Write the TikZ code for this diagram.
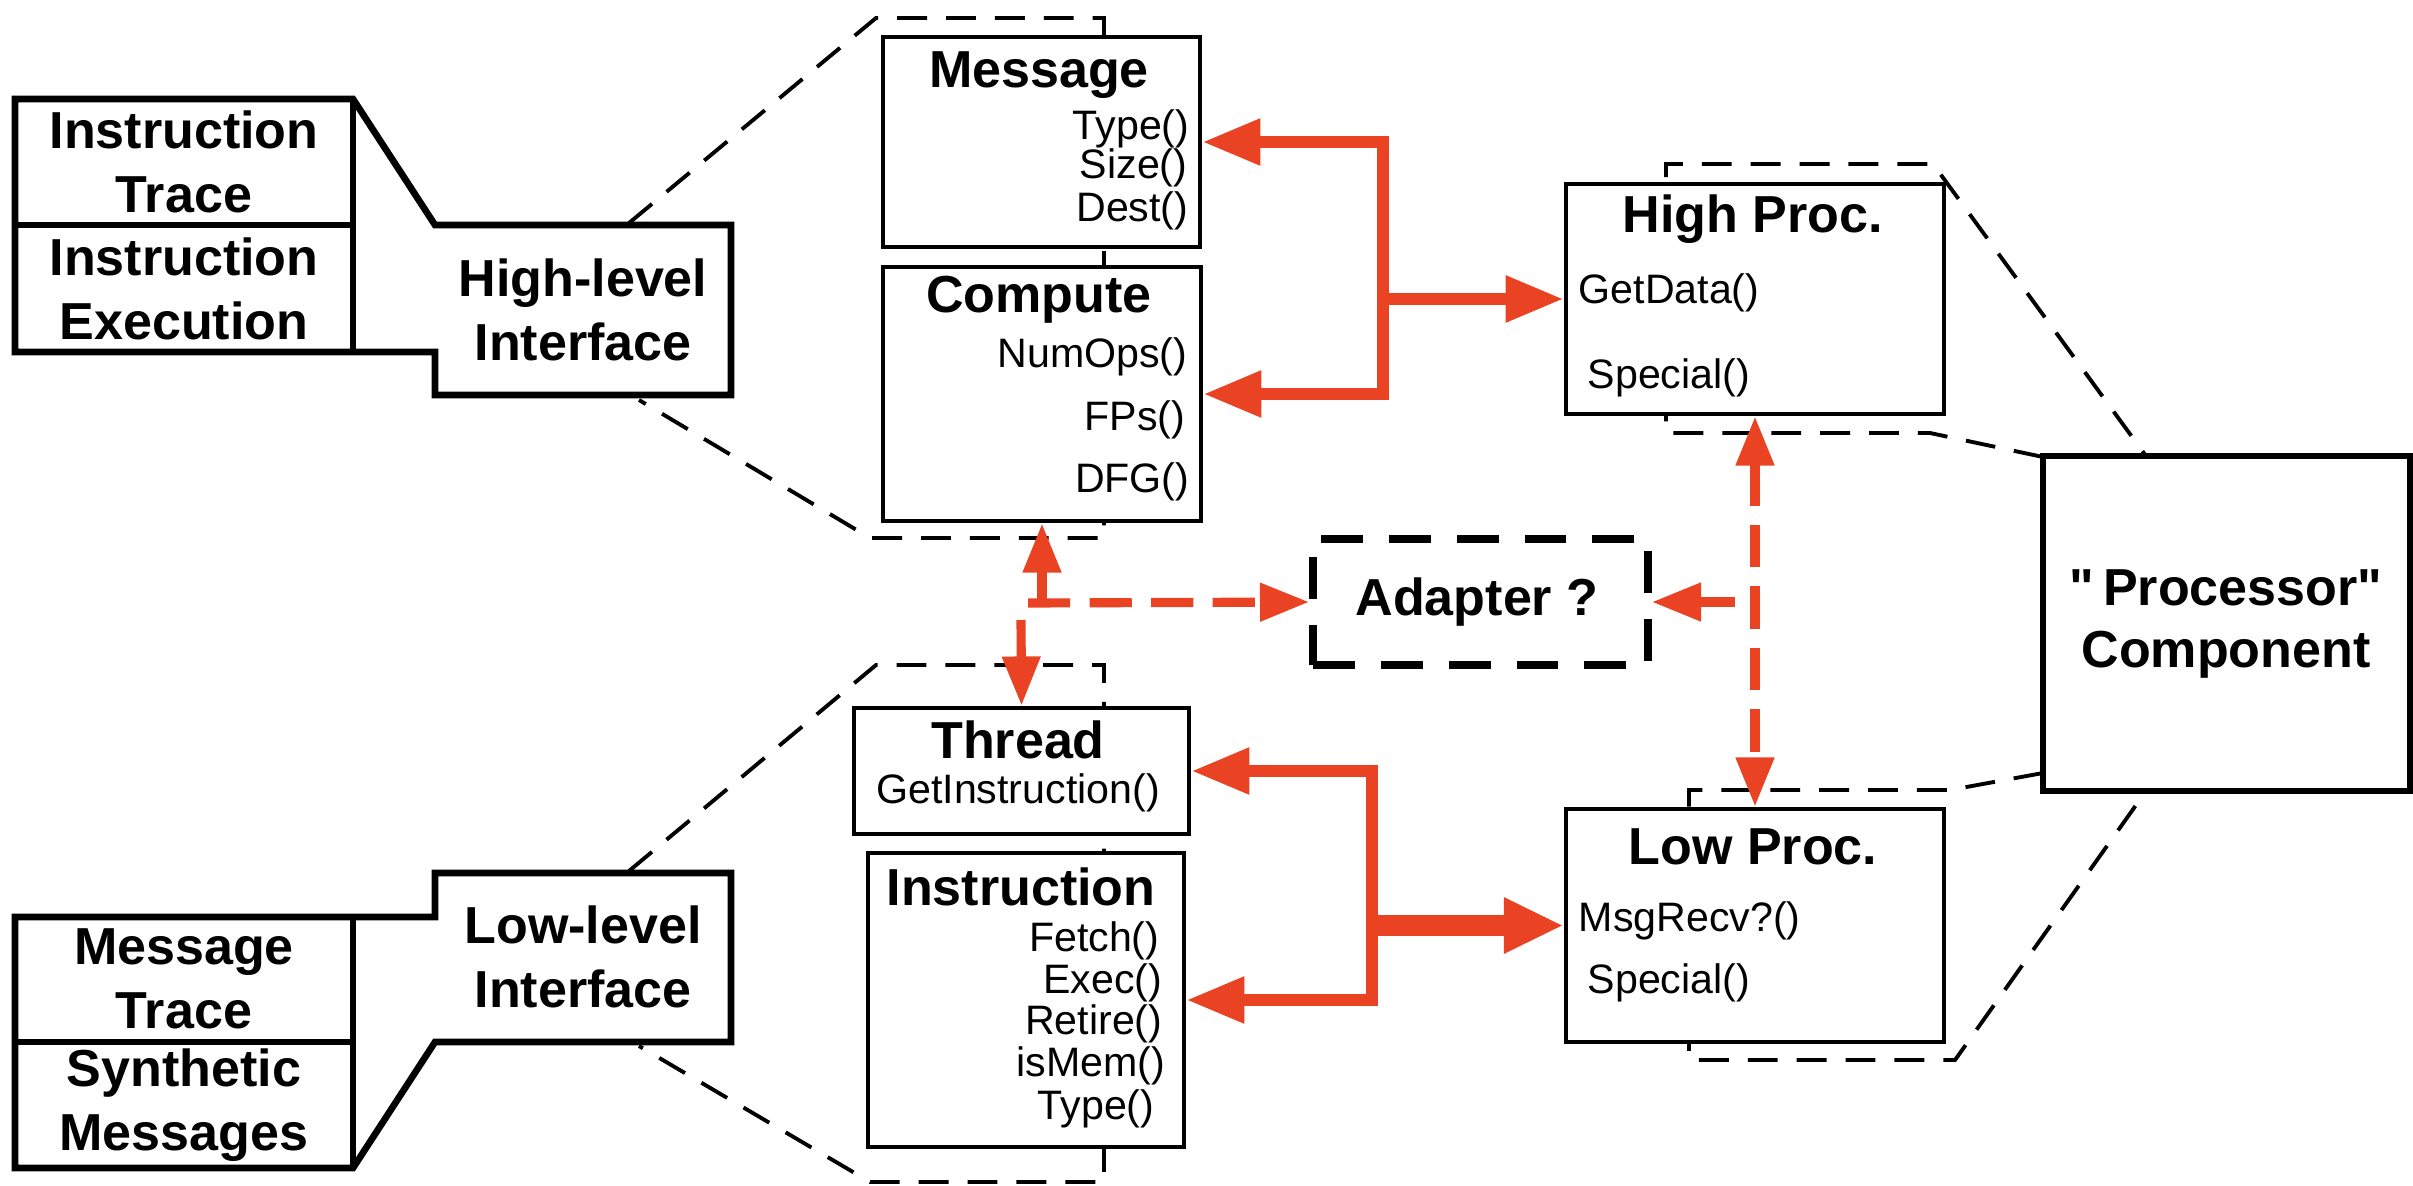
\documentclass[tikz,border=0pt]{standalone}
\usepackage{fontspec}
\setmainfont{Liberation Sans}
% same face without the TeX quote mapping, for straight quote marks
\newfontfamily\straightq{Liberation Sans}
\usetikzlibrary{arrows.meta}
\definecolor{wire}{RGB}{234,67,36}

\begin{document}
\begin{tikzpicture}[x=0.01cm, y=-0.01cm,
  box/.style={draw=black, line width=1.3pt, fill=white, rectangle, inner sep=0pt},
  bigbox/.style={box, line width=1.7pt},
  adbox/.style={box, line width=2.1pt, dash pattern=on 11.9pt off 7.4pt},
  callout/.style={draw=black, line width=1.9pt, line join=miter},
  ttl/.style={font=\fontsize{14.8}{18.2}\selectfont\bfseries, align=center, inner sep=0pt},
  mth/.style={font=\fontsize{11.7}{12}\selectfont, inner sep=0pt},
  zoomline/.style={draw=black, line width=1.1pt, dash pattern=on 8.5pt off 5.4pt},
  solidtip/.style={-{Triangle[length=16.5pt,width=12.5pt]}},
  wirearrow/.style={draw=wire, line width=3.4pt, line join=miter, solidtip},
  wirethick/.style={draw=wire, line width=5.7pt, -{Triangle[length=17pt,width=14.8pt]}},
  dashwire/.style={draw=wire, line width=2.6pt, dash pattern=on 12pt off 5.5pt},
  dtip/.style={-{Triangle[length=14pt,width=10.4pt]}},
  dtips/.style={{Triangle[length=14pt,width=10.4pt]}-{Triangle[length=14pt,width=10.4pt]}}
]
\useasboundingbox (0,0) rectangle (2413,1185);

% dashed zoom-out outlines
\draw[zoomline] (629,223) -- (876,18) -- (1104,18) -- (1104,538) -- (870,538) -- (639,400);
\draw[zoomline] (629,871) -- (876,665) -- (1104,665) -- (1104,1182) -- (870,1182) -- (639,1046);
\draw[zoomline] (2043,457) -- (1930,433) -- (1666,433) -- (1666,164) -- (1933,164) -- (2146,456);
\draw[zoomline] (2043,773) -- (1950,790) -- (1689,790) -- (1689,1060) -- (1955,1060) -- (2146,791);

% high-level interface callout
\draw[callout] (15,99) -- (353,99) -- (435,225) -- (731,225) -- (731,395) -- (435,395) -- (435,352) -- (15,352) -- cycle;
\draw[callout] (353,99) -- (353,352) (15,225) -- (353,225);
\node[ttl] (itrace) at (184,162) {Instruction\\Trace};
\node[ttl] (iexec) at (184,289) {Instruction\\Execution};
\node[ttl] (hli) at (583,310) {High-level\\Interface};

% low-level interface callout
\draw[callout] (15,917) -- (435,917) -- (435,873) -- (731,873) -- (731,1042) -- (435,1042) -- (353,1168) -- (15,1168) -- cycle;
\draw[callout] (353,917) -- (353,1168) (15,1042) -- (353,1042);
\node[ttl] (mtrace) at (184,979) {Message\\Trace};
\node[ttl] (synth) at (184,1105) {Synthetic\\Messages};
\node[ttl] (lli) at (583,957) {Low-level\\Interface};

% class boxes
\node[box, minimum width=3.17cm, minimum height=2.10cm] (msg) at (1041.5,142) {};
\node[box, minimum width=3.18cm, minimum height=2.54cm] (cmp) at (1042,394) {};
\node[box, minimum width=3.35cm, minimum height=1.26cm] (thr) at (1021.5,771) {};
\node[box, minimum width=3.16cm, minimum height=2.94cm] (ins) at (1026,1000) {};
\node[box, minimum width=3.78cm, minimum height=2.30cm] (hp) at (1755,299) {};
\node[box, minimum width=3.78cm, minimum height=2.33cm] (lp) at (1755,925.5) {};
\node[bigbox, minimum width=3.67cm, minimum height=3.35cm] (proc) at (2226.5,623.5) {};
\node[adbox, minimum width=3.35cm, minimum height=1.26cm] (adp) at (1480.5,602) {};

% box contents
\node[ttl] (msgt) at (1039,75) {Message};
\node[mth, anchor=east] (msg1) at (1190,129) {Type()};
\node[mth, anchor=east] (msg2) at (1188,168) {Size()};
\node[mth, anchor=east] (msg3) at (1189,211) {Dest()};

\node[ttl] (cmpt) at (1039,300) {Compute};
\node[mth, anchor=east] (cmp1) at (1188,357) {NumOps()};
\node[mth, anchor=east] (cmp2) at (1186,420) {FPs()};
\node[mth, anchor=east] (cmp3) at (1190,482) {DFG()};

\node[ttl] (thrt) at (1018,740) {Thread};
\node[mth] (thr1) at (1018,793) {GetInstruction()};

\node[ttl] (inst) at (1021,887) {Instruction};
\node[mth, anchor=east] (ins1) at (1160,941) {Fetch()};
\node[mth, anchor=east] (ins2) at (1163,983) {Exec()};
\node[mth, anchor=east] (ins3) at (1163,1024) {Retire()};
\node[mth, anchor=east] (ins4) at (1166,1066) {isMem()};
\node[mth, anchor=east] (ins5) at (1155,1109) {Type()};

\node[ttl] (hpt) at (1753,219) {High Proc.};
\node[mth, anchor=west] (hp1) at (1578,293) {GetData()};
\node[mth, anchor=west] (hp2) at (1587,378) {Special()};

\node[ttl] (lpt) at (1753,847) {Low Proc.};
\node[mth, anchor=west] (lp1) at (1578,921) {MsgRecv?()};
\node[mth, anchor=west] (lp2) at (1587,983) {Special()};

\node[ttl, font=\fontsize{14.8}{17.9}\selectfont\bfseries] (proct) at (2226,624) {{\straightq"}\,Processor{\straightq"}\\Component};
\node[ttl] (adpt) at (1477,602) {Adapter ?};

% solid red links
\coordinate (hj) at (1383,299);
\draw[wirearrow] (hj) |- (msg.east);
\draw[wirearrow] (hj) |- (cmp.east);
\draw[wirearrow] (hj) -- (hp.west);

\coordinate (lj) at (1372,925.5);
\draw[wirearrow] (lj) |- (thr.east);
\draw[wirearrow] (lj) |- (ins.east);
\draw[wirethick] (lj) -- (lp.west);

% dashed red links
\draw[dashwire, dtips] (hp.south) -- (lp.north);
\coordinate (rb) at (1735,602);
\draw[dashwire, dtip] (rb) -- (adp.east);
\coordinate (fork) at (1042,603);
\coordinate (forkl) at (1028,603);
\coordinate (drop) at (1021,620);
\draw[dashwire, dtip] (fork) -- (cmp.south);
\draw[dashwire, dtip] (forkl) -- (adp.west);
\draw[dashwire, dtip] (drop) -- (thr.north);
\end{tikzpicture}
\end{document}
